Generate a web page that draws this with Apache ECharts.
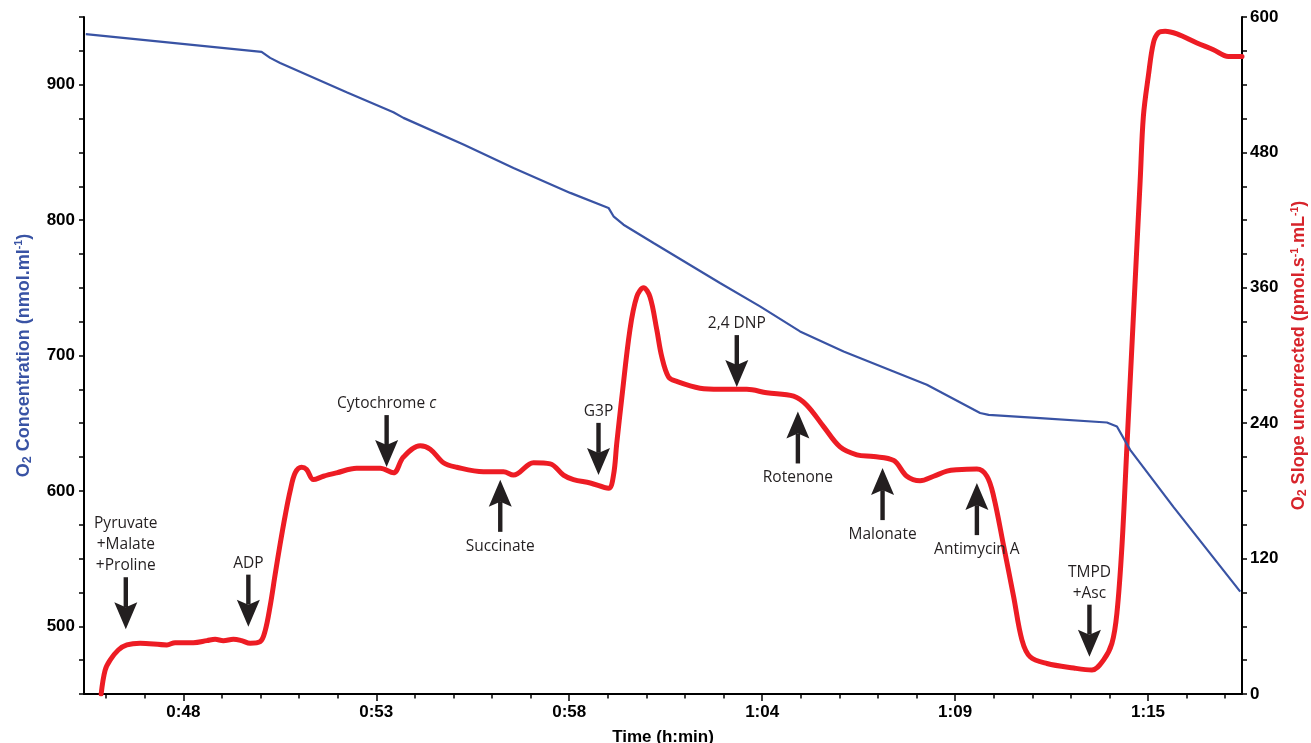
<!DOCTYPE html>
<html>
<head>
<meta charset="utf-8">
<script src="https://cdn.jsdelivr.net/npm/echarts@6/dist/echarts.min.js"></script>
<style>
html,body{margin:0;padding:0;background:#fff;}
#chart{width:1311px;height:743px;}
</style>
</head>
<body>
<div id="chart"></div>
<script>
// ---- data (time in minutes) ----
const xMajorTicks = [48, 53.4, 58.8, 64.2, 69.6, 75.0];
const xTickLabels = ['0:48', '0:53', '0:58', '1:04', '1:09', '1:15'];

const blueTime = [45.27, 50.19, 50.43, 50.71, 52.57, 53.88, 54.16, 55.84, 57.24, 58.83, 59.90, 60.04, 60.32, 61.16, 63.02, 64.14, 65.26, 66.48, 67.88, 68.81, 70.30, 70.54, 71.98, 73.85, 74.13, 74.50, 75.71, 77.58];
const blueConc = [937.3, 924.3, 919.8, 916.1, 894.4, 879.6, 875.5, 855.8, 838.5, 820.1, 809.0, 802.8, 796.6, 783.1, 753.5, 736.3, 717.8, 703.0, 688.2, 678.4, 657.5, 656.2, 653.8, 650.5, 647.6, 630.3, 588.2, 525.6];

const redTime = [45.70, 45.81, 45.95, 46.18, 46.42, 46.79, 47.54, 47.77, 48.28, 48.66, 48.89, 49.12, 49.40, 49.63, 49.87, 50.15, 50.29, 50.43, 50.57, 50.71, 50.85, 50.99, 51.13, 51.31, 51.45, 51.64, 51.92, 52.29, 52.85, 53.51, 53.88, 54.16, 54.63, 54.91, 55.28, 55.65, 56.40, 56.96, 57.24, 57.80, 58.27, 58.64, 58.92, 59.39, 59.90, 60.04, 60.13, 60.27, 60.50, 60.69, 60.88, 61.06, 61.25, 61.39, 61.58, 61.81, 62.46, 63.02, 63.77, 64.33, 65.08, 65.45, 65.92, 66.38, 66.85, 67.32, 67.88, 68.25, 68.62, 69.00, 69.37, 69.65, 70.21, 70.49, 70.68, 70.96, 71.24, 71.47, 71.70, 72.17, 72.92, 73.43, 73.75, 73.99, 74.13, 74.27, 74.41, 74.55, 74.69, 74.78, 74.87, 75.01, 75.15, 75.29, 75.48, 75.81, 76.37, 76.83, 77.25, 77.63];
const redSlope = [0, 21, 30, 39, 43.5, 45, 43.5, 45.5, 45.5, 47.3, 48.5, 47.3, 48.5, 47.3, 45, 46.4, 56, 78, 106, 133, 158, 180, 196, 201, 199, 190, 193, 196, 200, 200, 196, 210, 220, 217, 205, 201, 197, 197, 194, 205, 204, 194, 190, 187, 182.4, 194, 222, 262, 323, 352, 360, 352, 323, 299, 281, 277, 271, 270, 270, 267, 264, 256, 237, 219, 212, 210.5, 207, 193, 189, 193, 197.5, 198.7, 199.3, 193, 175, 131, 86, 48, 33, 27, 23, 21.3, 30, 45, 72, 131, 220, 309, 398, 455, 512, 548, 577, 586, 587.4, 585, 577, 571, 565, 565];

// annotations: arrow tip (time, slope), direction (1 = arrow points down, -1 = points up)
const annText = ['Pyruvate\n+Malate\n+Proline', 'ADP', 'Cytochrome c', 'Succinate', 'G3P', '2,4 DNP', 'Rotenone', 'Malonate', 'Antimycin A', 'TMPD\n+Asc'];
const annTime = [46.39, 49.82, 53.69, 56.87, 59.62, 63.49, 65.20, 67.57, 70.21, 73.36];
const annSlope = [57.4, 59.7, 201.1, 189.8, 194.2, 272.0, 250.4, 200.2, 186.9, 33.1];
const annDir = [1, 1, 1, -1, 1, 1, -1, -1, -1, 1];

// ---- derived ----
const X_MIN = 45.22, X_MAX = 77.63;
const xMinorTicks = [];
for (let k = -2; k <= 27; k++) {
  const v = +(48 + k * 1.08).toFixed(3);
  if (v >= X_MIN && v <= X_MAX) xMinorTicks.push(v);
}

const blueData = blueTime.map((t, i) => [t, blueConc[i]]);
const redData = redTime.map((t, i) => [t, redSlope[i]]);
const annData = annTime.map((t, i) => [t, annSlope[i], annDir[i]]);

const AXIS_FONT = "'Liberation Sans', Arial, sans-serif";
const ANN_FONT = "'Open Sans', 'Noto Sans', sans-serif";
const BLUE = '#3953a4';
const RED = '#ed1c24';
const RED_TITLE = '#d7242b';
const ARROW = '#231f20';

function renderArrow(params, api) {
  const i = params.dataIndex;
  const p = api.coord([api.value(0), api.value(1)]);
  const dir = api.value(2);
  const x = p[0], y = p[1];
  const L = 52, H = 27, W = 11.5, N = 5, S = 2.2;
  const base = y - dir * L;
  const neck = y - dir * (H - N);
  const txt = annText[i].replace(/ c$/, ' {i|c}');
  return {
    type: 'group',
    children: [
      { type: 'rect', shape: { x: x - S, y: Math.min(base, neck), width: 2 * S, height: Math.abs(neck - base) }, style: { fill: ARROW } },
      { type: 'polygon', shape: { points: [[x, y], [x - W, y - dir * H], [x, neck], [x + W, y - dir * H]] }, style: { fill: ARROW } },
      {
        type: 'text', x: x, y: dir > 0 ? base - 1 : base + 4,
        style: {
          text: txt, fill: ARROW, fontFamily: ANN_FONT, fontSize: 15.5,
          align: 'center', verticalAlign: dir > 0 ? 'bottom' : 'top', lineHeight: 21,
          rich: { i: { fontStyle: 'italic', fontFamily: ANN_FONT, fontSize: 15.5, fill: ARROW, lineHeight: 21 } }
        }
      }
    ]
  };
}

function titleRich(color) {
  return {
    b: { color: color, fontFamily: AXIS_FONT, fontWeight: 'bold', fontSize: 18, lineHeight: 20 },
    s: { color: color, fontFamily: AXIS_FONT, fontWeight: 'bold', fontSize: 12.5, lineHeight: 10, verticalAlign: 'bottom' },
    p: { color: color, fontFamily: AXIS_FONT, fontWeight: 'bold', fontSize: 10.5, lineHeight: 10, verticalAlign: 'top' }
  };
}

const chart = echarts.init(document.getElementById('chart'), null, { renderer: 'canvas' });
const axisLineStyle = { color: '#000', width: 2 };
const tickStyle = { color: '#000', width: 1.5 };
const labelStyle = { color: '#000', fontFamily: AXIS_FONT, fontWeight: 'bold', fontSize: 17 };

chart.setOption({
  animation: false,
  backgroundColor: '#fff',
  grid: { left: 84, right: 69, top: 17, bottom: 49, containLabel: false, outerBoundsMode: 'none' },
  xAxis: [
    {
      type: 'value', min: X_MIN, max: X_MAX,
      name: 'Time (h:min)', nameLocation: 'middle', nameGap: 35,
      nameTextStyle: { color: '#000', fontFamily: AXIS_FONT, fontWeight: 'bold', fontSize: 17 },
      axisLine: { onZero: false, lineStyle: axisLineStyle },
      axisTick: { customValues: xMajorTicks, length: 7, lineStyle: tickStyle },
      axisLabel: Object.assign({ customValues: xMajorTicks, margin: 10,
        formatter: v => { const k = xMajorTicks.findIndex(m => Math.abs(m - v) < 1e-6); return k >= 0 ? xTickLabels[k] : ''; } }, labelStyle),
      splitLine: { show: false }
    },
    {
      type: 'value', min: X_MIN, max: X_MAX, position: 'bottom',
      axisLine: { show: false, onZero: false },
      axisTick: { customValues: xMinorTicks, length: 4.5, lineStyle: tickStyle },
      axisLabel: { show: false },
      splitLine: { show: false }
    }
  ],
  yAxis: [
    {
      type: 'value', min: 450, max: 950, interval: 25, position: 'left',
      name: '{b|O}{s|2}{b| Concentration (nmol.ml}{p|-1}{b|)}',
      nameLocation: 'middle', nameGap: 50, nameRotate: 90,
      nameTextStyle: { color: BLUE, rich: titleRich(BLUE) },
      axisLine: { show: true, onZero: false, lineStyle: axisLineStyle },
      axisTick: { show: true, length: 5, lineStyle: tickStyle },
      axisLabel: Object.assign({ margin: 9, formatter: v => (v % 100 === 0 && v >= 500 && v <= 900) ? String(v) : '' }, labelStyle),
      splitLine: { show: false }
    },
    {
      type: 'value', min: 0, max: 600, interval: 30, position: 'right',
      name: '{b|O}{s|2}{b| Slope uncorrected (pmol.s}{p|-1}{b|.mL}{p|-1}{b|)}',
      nameLocation: 'middle', nameGap: 46, nameRotate: 90,
      nameTextStyle: { color: RED_TITLE, rich: titleRich(RED_TITLE) },
      axisLine: { show: true, onZero: false, lineStyle: axisLineStyle },
      axisTick: { show: true, length: 5, lineStyle: tickStyle },
      axisLabel: Object.assign({ margin: 8, formatter: v => (v % 120 === 0) ? String(v) : '' }, labelStyle),
      splitLine: { show: false }
    }
  ],
  series: [
    {
      name: 'O2 Slope', type: 'line', xAxisIndex: 0, yAxisIndex: 1, data: redData,
      showSymbol: false, smooth: 0.35, z: 2,
      lineStyle: { color: RED, width: 5, cap: 'round', join: 'round' }
    },
    {
      name: 'O2 Concentration', type: 'line', xAxisIndex: 0, yAxisIndex: 0, data: blueData,
      showSymbol: false, smooth: false, z: 3,
      lineStyle: { color: BLUE, width: 2.2 }
    },
    {
      name: 'annotations', type: 'custom', xAxisIndex: 0, yAxisIndex: 1, data: annData,
      renderItem: renderArrow, z: 5, clip: false, silent: true
    }
  ]
});
</script>
</body>
</html>
